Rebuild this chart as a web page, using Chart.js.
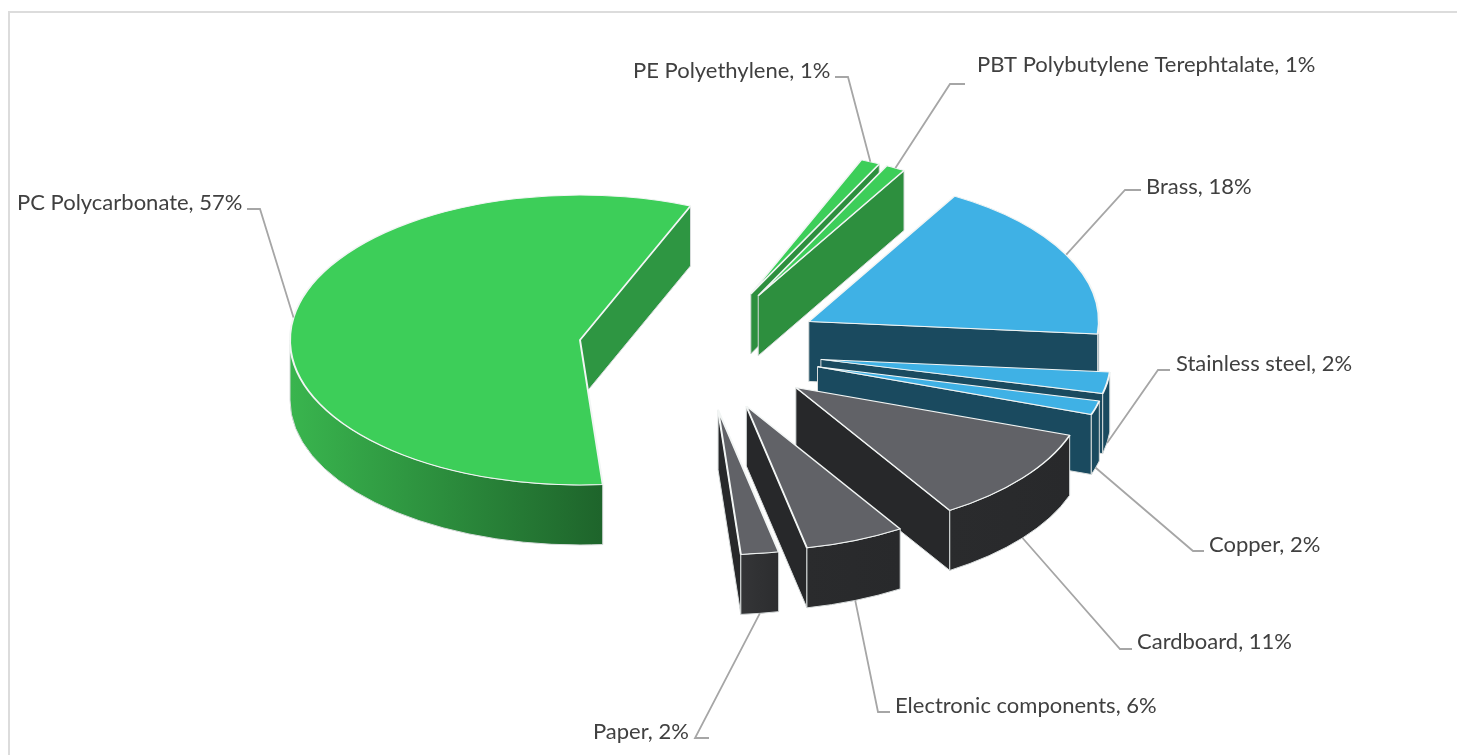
<!DOCTYPE html>
<html>
<head>
<meta charset="utf-8">
<title>Materials</title>
<script src="https://cdn.jsdelivr.net/npm/chart.js@4"></script>
<style>
    html, body { margin: 0; padding: 0; background: #fff; overflow: hidden; }
    #frame { position: absolute; left: 8px; top: 11px; width: 1470px; height: 770px; border: 2px solid #dcdcdc; }
    #pie3d { position: absolute; left: 0; top: 0; }
</style>
</head>
<body>
<div id="frame"></div>
<canvas id="pie3d" width="1457" height="755"></canvas>
<script>
const categories = ['PC Polycarbonate', 'PE Polyethylene', 'PBT Polybutylene Terephtalate', 'Brass',
    'Stainless steel', 'Copper', 'Cardboard', 'Electronic components', 'Paper'];
const shares = [57.45, 1.08, 1.08, 18.0, 2.4, 1.55, 10.75, 5.55, 2.1];

// Colores: cara superior, cara de corte, pared exterior (izquierda -> derecha)
const topColors = ['#3dce59', '#3dce59', '#3dce59', '#3fb1e5', '#3fb1e5', '#3fb1e5', '#616267', '#616267', '#616267'];
const cutColors = ['#2e9642', '#2d8f3e', '#2d8f3e', '#1a4a5f', '#1a4a5f', '#1a4a5f', '#27282a', '#27282a', '#27282a'];
const wallLeft = ['#39b54e', '#2d8f3e', '#2d8f3e', '#1a4a5f', '#1a4a5f', '#1a4a5f', '#2a2b2d', '#2a2b2d', '#343537'];
const wallRight = ['#1e642b', '#2d8f3e', '#2d8f3e', '#1a4a5f', '#1a4a5f', '#1a4a5f', '#28292b', '#28292b', '#2c2d2f'];

// Posicion de cada etiqueta: texto (x, y) y codo de la linea guia
const labelX = [17, 633, 977, 1146, 1176, 1209, 1137, 895, 593];
const labelY = [203, 71, 65, 187, 364, 545, 642, 706, 732];
const lineEnd = [[247, 209], [835, 77], [965, 84], [1141, 190], [1170, 370], [1204, 551], [1132, 649], [890, 712], [709, 738]];
const lineElbow = [[260, 209], [848, 77], [950, 84], [1125, 190], [1158, 370], [1193, 551], [1120, 649], [878, 712], [695, 738]];

const squash = 0.5;      // aplastamiento de la elipse
const explode = 122;     // separacion de las porciones
const depth = 60;        // altura de las paredes
const pieRadius = 290;

function sliceCenter(arc) {
    const mid = (arc.startAngle + arc.endAngle) / 2;
    return {
        x: arc.x + Math.cos(mid) * explode,
        y: arc.y + Math.sin(mid) * explode * squash
    };
}

function fillQuad(ctx, c, angle, r, color) {
    const px = c.x + Math.cos(angle) * r;
    const py = c.y + Math.sin(angle) * r * squash;
    ctx.beginPath();
    ctx.moveTo(c.x, c.y);
    ctx.lineTo(px, py);
    ctx.lineTo(px, py + depth);
    ctx.lineTo(c.x, c.y + depth);
    ctx.closePath();
    ctx.fillStyle = color;
    ctx.fill();
    ctx.stroke();
}

function drawSlice(ctx, arc, i) {
    const c = sliceCenter(arc);
    const r = arc.outerRadius;
    const a0 = arc.startAngle;
    const a1 = arc.endAngle;

    ctx.save();
    ctx.lineWidth = 1;
    ctx.strokeStyle = '#d8dcdc';
    ctx.lineJoin = 'round';

    // caras de corte visibles
    if (Math.cos(a0) < 0) fillQuad(ctx, c, a0, r, cutColors[i]);
    if (Math.cos(a1) > 0) fillQuad(ctx, c, a1, r, cutColors[i]);

    // pared exterior, solo la parte que mira al frente
    for (let k = 0; k <= 2; k++) {
        const lo = Math.max(a0, k * 2 * Math.PI);
        const hi = Math.min(a1, k * 2 * Math.PI + Math.PI);
        if (hi <= lo) continue;
        const x0 = c.x + Math.cos(lo) * r;
        const x1 = c.x + Math.cos(hi) * r;
        const hasLeft = lo <= k * 2 * Math.PI + Math.PI && hi >= k * 2 * Math.PI + Math.PI;
        const left = hasLeft ? c.x - r : Math.min(x0, x1);
        const grad = ctx.createLinearGradient(left, 0, Math.max(x0, x1), 0);
        grad.addColorStop(0, wallLeft[i]);
        grad.addColorStop(1, wallRight[i]);
        ctx.beginPath();
        ctx.ellipse(c.x, c.y, r, r * squash, 0, lo, hi);
        ctx.ellipse(c.x, c.y + depth, r, r * squash, 0, hi, lo, true);
        ctx.closePath();
        ctx.fillStyle = grad;
        ctx.fill();
        ctx.stroke();
    }
    ctx.restore();

    // cara superior: el propio arco de Chart.js, aplastado
    ctx.save();
    ctx.translate(c.x, c.y);
    ctx.scale(1, squash);
    ctx.translate(-arc.x, -arc.y);
    arc.draw(ctx);
    ctx.restore();
}

function drawLabel(ctx, arc, i) {
    const c = sliceCenter(arc);
    const mid = (arc.startAngle + arc.endAngle) / 2;
    const front = Math.sin(mid) > 0 ? depth : 0;
    const sx = c.x + Math.cos(mid) * arc.outerRadius;
    const sy = c.y + Math.sin(mid) * arc.outerRadius * squash + front;

    ctx.beginPath();
    ctx.moveTo(sx, sy);
    ctx.lineTo(lineElbow[i][0], lineElbow[i][1]);
    ctx.lineTo(lineEnd[i][0], lineEnd[i][1]);
    ctx.strokeStyle = '#a6a6a6';
    ctx.lineWidth = 1.8;
    ctx.stroke();

    ctx.fillStyle = '#404040';
    ctx.font = '22px Lato';
    ctx.textAlign = 'left';
    ctx.textBaseline = 'middle';
    ctx.fillText(categories[i] + ', ' + Math.round(shares[i]) + '%', labelX[i], labelY[i]);
}

const pie3dPlugin = {
    id: 'pie3d',
    beforeDatasetDraw(chart, args) {
        const ctx = chart.ctx;
        const arcs = chart.getDatasetMeta(args.index).data;
        arcs.forEach(function (arc, i) { drawSlice(ctx, arc, i); });
        arcs.forEach(function (arc, i) { drawLabel(ctx, arc, i); });
        return false; // ya dibujado arriba
    }
};

document.addEventListener('DOMContentLoaded', function () {
    const ctx = document.getElementById('pie3d').getContext('2d');

    new Chart(ctx, {
        type: 'pie',
        data: {
            labels: categories,
            datasets: [{
                data: shares,
                backgroundColor: topColors,
                borderColor: '#f2f5f4',
                borderWidth: 2
            }]
        },
        options: {
            responsive: false,
            animation: false,
            radius: pieRadius,
            rotation: 175.5,
            layout: { padding: { right: 56, bottom: 56 } },
            plugins: {
                legend: { display: false },
                title: { display: false }
            }
        },
        plugins: [pie3dPlugin]
    });
});
</script>
</body>
</html>
